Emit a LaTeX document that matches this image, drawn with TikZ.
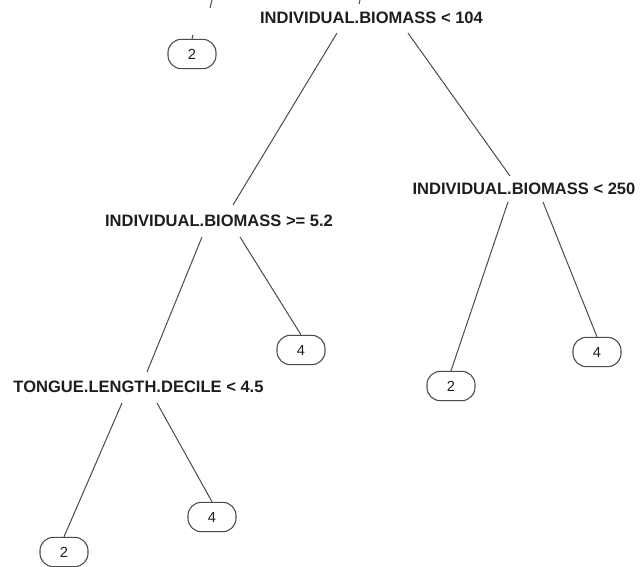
\documentclass[tikz,border=0pt]{standalone}
\usepackage{fontspec}
\setmainfont{Liberation Sans}
\usetikzlibrary{calc}
\definecolor{branch}{HTML}{4A4A4A}
\definecolor{ink}{HTML}{1E1E1E}
\tikzset{
  split/.style={inner sep=0pt, text depth=0pt, text=ink,
    font=\fontsize{12.4}{14}\selectfont\bfseries},
  leaf/.style={draw=branch, line width=0.8pt, rounded corners=10pt,
    minimum width=36pt, minimum height=22pt, inner sep=0pt, text=ink,
    font=\fontsize{11}{13}\selectfont},
  edge/.style={draw=branch, line width=0.75pt}
}
\begin{document}
\begin{tikzpicture}[x=0.75pt, y=-0.75pt]
\useasboundingbox (0,0) rectangle (643,567);

% split labels
\node[split] (root) at (371.5,17.5) {INDIVIDUAL.BIOMASS < 104};
\node[split] (lo)   at (219,221)    {INDIVIDUAL.BIOMASS >= 5.2};
\node[split] (hi)   at (524,189)    {INDIVIDUAL.BIOMASS < 250};
\node[split] (tng)  at (138.5,386.5) {TONGUE.LENGTH.DECILE < 4.5};

% terminal nodes
\node[leaf] (t0) at (192,54)  {2};
\node[leaf] (l4) at (301,350) {4};
\node[leaf] (h2) at (451,386) {2};
\node[leaf] (h4) at (597,352) {4};
\node[leaf] (t2) at (64,552)  {2};
\node[leaf] (t4) at (212,517) {4};

% stubs of branches running off the top edge
\coordinate (topA) at (212,0);
\coordinate (topB) at (360,0);
\draw[edge] (topA) -- (210,8);
\draw[edge] (topB) -- (359,4);
\draw[edge] (t0.north) -- ++(1,-4);

% branches
\draw[edge] ($(root.center)+(-34.5,15.5)$) -- ($(lo.center)+(14,-16)$);
\draw[edge] ($(root.center)+(36.5,15.5)$) -- ($(hi.center)+(-14,-13)$);
\draw[edge] ($(lo.center)+(-17,16)$) -- ($(tng.center)+(8.5,-14.5)$);
\draw[edge] ($(lo.center)+(21,16)$) -- (l4.north);
\draw[edge] ($(hi.center)+(-16,13)$) -- (h2.north);
\draw[edge] ($(hi.center)+(19,13)$) -- (h4.north);
\draw[edge] ($(tng.center)+(-16.5,16.5)$) -- (t2.north);
\draw[edge] ($(tng.center)+(18.5,16.5)$) -- (t4.north);
\end{tikzpicture}
\end{document}
